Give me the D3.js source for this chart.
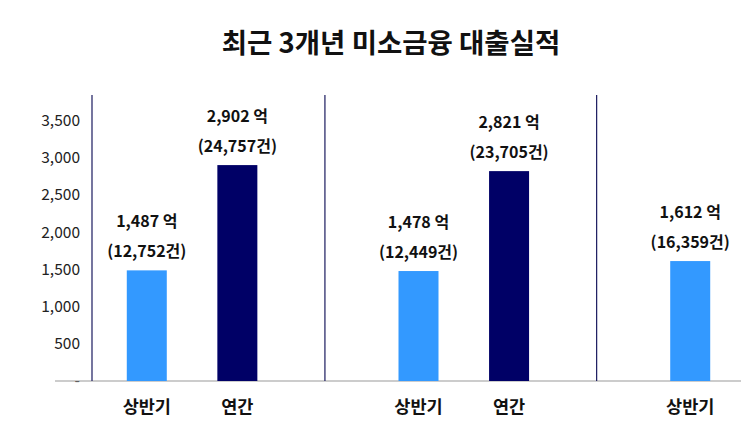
<!DOCTYPE html>
<html>
<head>
<meta charset="utf-8">
<script src="https://cdn.jsdelivr.net/npm/d3@7"></script>
<style>
  body { margin: 0; background: #fff; }
  text { font-family: "Noto Sans CJK KR", "Noto Sans", sans-serif; }
</style>
</head>
<body>
<div id="chart"></div>
<script>
// slots: 7 positions, empty ones mark the year separators
var slots = ["a1", "a2", "gap1", "b1", "b2", "gap2", "c1"];
var barSlots = ["a1", "a2", "b1", "b2", "c1"];
var barLabels = ["상반기", "연간", "상반기", "연간", "상반기"];
var amounts = [1487, 2902, 1478, 2821, 1612];
var counts = [12752, 24757, 12449, 23705, 16359];
var kinds = ["half", "year", "half", "year", "half"];
var yTicks = [0, 500, 1000, 1500, 2000, 2500, 3000, 3500];

var w = 750, h = 433;
var svg = d3.select("#chart").append("svg")
            .attr("width", w)
            .attr("height", h);

var x = d3.scaleBand()
          .domain(slots)
          .range([101.5, 735.5])
          .paddingInner(0)
          .paddingOuter(0);

var y = d3.scaleLinear()
          .domain([0, 3500])
          .range([381, 120.6]);

var color = d3.scaleOrdinal()
              .domain(["half", "year"])
              .range(["#3399ff", "#000066"]);

var fmt = d3.format(",");
var barW = 40;

//Title
svg.append("text")
   .attr("x", 391)
   .attr("y", 53)
   .attr("text-anchor", "middle")
   .attr("font-size", 27.5)
   .attr("font-weight", "bold")
   .attr("fill", "#111")
   .text("최근 3개년 미소금융 대출실적");

//Y tick labels (no tick marks)
svg.append("g")
   .selectAll("text")
   .data(yTicks)
   .enter()
   .append("text")
   .attr("x", 80)
   .attr("y", function(d) { return y(d); })
   .attr("dy", "0.35em")
   .attr("text-anchor", "end")
   .attr("font-size", 15.5)
   .attr("fill", "#222")
   .text(function(d) { return d === 0 ? "-" : fmt(d); });

//Baseline
svg.append("line")
   .attr("x1", 55).attr("x2", 741)
   .attr("y1", y(0)).attr("y2", y(0))
   .attr("stroke", "#999")
   .attr("stroke-width", 1.2);

//Y axis line and year separators
var sepX = [x.range()[0] - 9.5,
            x("gap1") + x.bandwidth() / 2 - 3,
            x("gap2") + x.bandwidth() / 2 - 3];
svg.append("g")
   .selectAll("line")
   .data(sepX)
   .enter()
   .append("line")
   .attr("x1", function(d) { return d; })
   .attr("x2", function(d) { return d; })
   .attr("y1", 95)
   .attr("y2", y(0))
   .attr("stroke", "#1a1a5e")
   .attr("stroke-width", 1.2);

var bars = barSlots.map(function(s, i) {
  return { slot: s, label: barLabels[i], amount: amounts[i], count: counts[i], kind: kinds[i] };
});

var g = svg.selectAll("g.bar")
           .data(bars)
           .enter()
           .append("g")
           .attr("class", "bar");

g.append("rect")
 .attr("x", function(d) { return x(d.slot) + x.bandwidth() / 2 - barW / 2; })
 .attr("y", function(d) { return y(d.amount); })
 .attr("width", barW)
 .attr("height", function(d) { return y(0) - y(d.amount); })
 .attr("fill", function(d) { return color(d.kind); });

//Value labels
g.append("text")
 .attr("x", function(d) { return x(d.slot) + x.bandwidth() / 2; })
 .attr("y", function(d) { return y(d.amount) - 49; })
 .attr("dy", "0.35em")
 .attr("text-anchor", "middle")
 .attr("font-size", 16)
 .attr("font-weight", "bold")
 .attr("fill", "#111")
 .text(function(d) { return fmt(d.amount) + " 억"; });

g.append("text")
 .attr("x", function(d) { return x(d.slot) + x.bandwidth() / 2; })
 .attr("y", function(d) { return y(d.amount) - 19; })
 .attr("dy", "0.35em")
 .attr("text-anchor", "middle")
 .attr("font-size", 16)
 .attr("font-weight", "bold")
 .attr("fill", "#111")
 .text(function(d) { return "(" + fmt(d.count) + "건)"; });

//Category labels
g.append("text")
 .attr("x", function(d) { return x(d.slot) + x.bandwidth() / 2; })
 .attr("y", 407)
 .attr("dy", "0.35em")
 .attr("text-anchor", "middle")
 .attr("font-size", 17.5)
 .attr("font-weight", "bold")
 .attr("fill", "#111")
 .text(function(d) { return d.label; });
</script>
</body>
</html>
